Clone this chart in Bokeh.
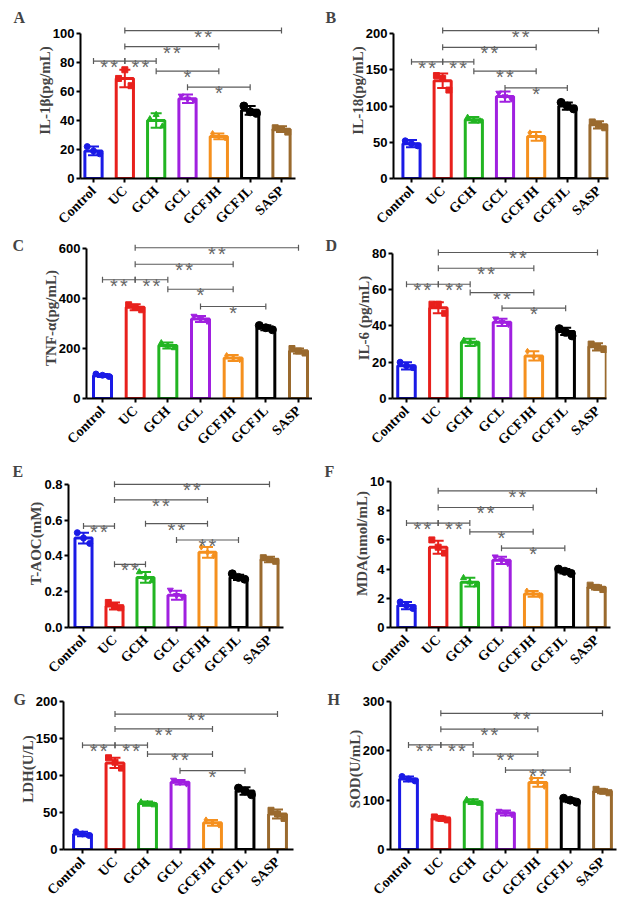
import numpy as np
from bokeh.plotting import figure
from bokeh.layouts import column, row
from bokeh.models import Range1d, FixedTicker, PrintfTickFormatter
from bokeh.embed import file_html
from bokeh.resources import INLINE

groups = ["Control", "UC", "GCH", "GCL", "GCFJH", "GCFJL", "SASP"]
colors = ["#1a1ae6", "#e8201c", "#22b522", "#a020e0", "#f5901e", "#000000", "#9a6a2e"]
markers = ["circle", "square", "triangle", "inverted_triangle", "diamond", "circle", "square"]
msizes = [6, 6, 6, 6, 6, 8, 6]

# ---- data (mean, SD, individual points [left, centre, right], significance brackets) ----
a_mean = [19, 69, 40, 55, 29, 47, 34]
a_sd = [3, 6, 5, 3, 2, 3, 2]
a_pts = [[22, 19, 17], [69, 75, 64], [41, 44, 36], [57, 55, 54], [31, 29, 28], [50, 46, 45], [35, 34, 32]]
a_sig = [(0, 1, 81, "**"), (1, 2, 81, "**"), (2, 4, 74, "*"), (3, 5, 63, "*"), (1, 4, 91, "**"), (1, 6, 102, "**")]

b_mean = [48, 135, 81, 113, 58, 100, 74]
b_sd = [5, 10, 4, 7, 6, 5, 5]
b_pts = [[52, 48, 45], [142, 138, 122], [84, 80, 79], [118, 113, 110], [63, 58, 55], [105, 100, 96], [78, 74, 70]]
b_sig = [(0, 1, 161, "**"), (1, 2, 161, "**"), (2, 4, 148, "**"), (3, 5, 125, "*"), (1, 4, 181, "**"), (1, 6, 204, "**")]

c_mean = [92, 365, 212, 318, 162, 283, 190]
c_sd = [6, 12, 12, 12, 12, 10, 10]
c_pts = [[98, 93, 88], [375, 365, 355], [222, 212, 202], [330, 318, 310], [172, 162, 155], [292, 283, 275], [200, 190, 182]]
c_sig = [(0, 1, 475, "**"), (1, 2, 475, "**"), (2, 4, 437, "*"), (3, 5, 368, "*"), (1, 4, 537, "**"), (1, 6, 603, "**")]

d_mean = [18, 50, 31, 42, 23.5, 37, 28.5]
d_sd = [2, 3, 2, 2, 2.5, 2, 2]
d_pts = [[20, 18, 17], [52, 52, 47], [32, 31, 30], [44, 42, 41], [26, 23, 22], [38.5, 36.5, 34.5], [30, 28.5, 27]]
d_sig = [(0, 1, 63, "**"), (1, 2, 63, "**"), (2, 4, 58.4, "**"), (3, 5, 49.8, "*"), (1, 4, 71.8, "**"), (1, 6, 80.5, "**")]

e_mean = [0.50, 0.12, 0.28, 0.18, 0.42, 0.28, 0.38]
e_sd = [0.03, 0.02, 0.03, 0.025, 0.03, 0.015, 0.015]
e_pts = [[0.53, 0.50, 0.47], [0.14, 0.12, 0.11], [0.31, 0.28, 0.26], [0.21, 0.18, 0.17], [0.45, 0.42, 0.40], [0.30, 0.28, 0.27], [0.39, 0.38, 0.37]]
e_sig = [(0, 1, 0.567, "**"), (1, 2, 0.353, "**"), (2, 4, 0.58, "**"), (3, 5, 0.489, "**"), (1, 4, 0.713, "**"), (1, 6, 0.80, "**")]

f_mean = [1.5, 5.5, 3.1, 4.6, 2.3, 3.85, 2.75]
f_sd = [0.25, 0.45, 0.3, 0.25, 0.2, 0.15, 0.15]
f_pts = [[1.75, 1.5, 1.3], [6.0, 5.5, 5.1], [3.4, 3.1, 2.9], [4.85, 4.6, 4.4], [2.5, 2.3, 2.2], [4.0, 3.85, 3.7], [2.9, 2.75, 2.6]]
f_sig = [(0, 1, 7.15, "**"), (1, 2, 7.15, "**"), (2, 4, 6.55, "*"), (3, 5, 5.43, "*"), (1, 4, 8.22, "**"), (1, 6, 9.36, "**")]

g_mean = [21, 117, 62, 91, 36, 79, 48]
g_sd = [3, 7, 3, 3, 4, 5, 6]
g_pts = [[24, 21, 19], [124, 118, 110], [64, 62, 60], [94, 91, 89], [40, 36, 33], [83, 79, 74], [53, 48, 42]]
g_sig = [(0, 1, 141, "**"), (1, 2, 141, "**"), (2, 4, 129, "**"), (3, 5, 106.5, "*"), (1, 4, 163, "**"), (1, 6, 183, "**")]

h_mean = [143, 63, 97, 74, 136, 100, 118]
h_sd = [5, 4, 5, 5, 9, 4, 4]
h_pts = [[148, 143, 139], [66, 63, 60], [101, 97, 93], [78, 74, 71], [144, 136, 128], [104, 100, 96], [122, 118, 115]]
h_sig = [(0, 1, 212, "**"), (1, 2, 212, "**"), (2, 4, 193.5, "**"), (3, 5, 161, "**"), (1, 4, 244, "**"), (1, 6, 276, "**")]

panels = [
    dict(letter="A", ylabel="IL-1β(pg/mL)", ymax=100, ticks=[0, 20, 40, 60, 80, 100], mean=a_mean, sd=a_sd, pts=a_pts, sig=a_sig, fmt=None),
    dict(letter="B", ylabel="IL-18(pg/mL)", ymax=200, ticks=[0, 50, 100, 150, 200], mean=b_mean, sd=b_sd, pts=b_pts, sig=b_sig, fmt=None),
    dict(letter="C", ylabel="TNF-α(pg/mL)", ymax=600, ticks=[0, 200, 400, 600], mean=c_mean, sd=c_sd, pts=c_pts, sig=c_sig, fmt=None),
    dict(letter="D", ylabel="IL-6 (pg/mL)", ymax=80, ticks=[0, 20, 40, 60, 80], mean=d_mean, sd=d_sd, pts=d_pts, sig=d_sig, fmt=None),
    dict(letter="E", ylabel="T-AOC(mM)", ymax=0.8, ticks=[0, 0.2, 0.4, 0.6, 0.8], mean=e_mean, sd=e_sd, pts=e_pts, sig=e_sig, fmt="%.1f"),
    dict(letter="F", ylabel="MDA(nmol/mL)", ymax=10, ticks=[0, 2, 4, 6, 8, 10], mean=f_mean, sd=f_sd, pts=f_pts, sig=f_sig, fmt=None),
    dict(letter="G", ylabel="LDH(U/L)", ymax=200, ticks=[0, 50, 100, 150, 200], mean=g_mean, sd=g_sd, pts=g_pts, sig=g_sig, fmt=None),
    dict(letter="H", ylabel="SOD(U/mL)", ymax=300, ticks=[0, 100, 200, 300], mean=h_mean, sd=h_sd, pts=h_pts, sig=h_sig, fmt=None),
]

# ---- layout geometry (page pixels): axis_x, first bar x, last bar x, axis right end, zero y, top tick y, letter x, letter y
ROW_TOPS = [0, 235, 457, 686]
ROW_H = [235, 222, 229, 226]
COL_L = [0, 312]
COL_W = [312, 312]
geo = [
    (80, 93, 281, 295, 178, 33, 19, 20),
    (393, 411, 598, 608, 178, 33, 331, 20),
    (86, 102, 298, 312, 398, 248, 18, 241),
    (392, 406, 597, 606, 399, 253, 331, 241),
    (68, 83, 269, 283, 628, 484, 18, 471),
    (390, 406, 596, 610, 627, 481, 330, 472),
    (63, 82, 277, 293, 849, 701, 19, 698),
    (390, 408, 602, 616, 849, 701, 333, 698),
]

SERIF = "Liberation Serif"
SANS = "Liberation Sans"
GRAY = "#5a5a5a"
OFFS = [-0.2, 0.0, 0.2]


def make(pn, g, r, c):
    axis_x, ctrl_x, sasp_x, right_x, y0, yt, lx, ly = g
    row_top, row_h, col_left, col_w = ROW_TOPS[r], ROW_H[r], COL_L[c], COL_W[c]
    ymax = pn["ymax"]
    scale = (y0 - yt) / ymax
    frame_top = row_top + 2
    y_end = ymax + (yt - frame_top) / scale
    sp = (sasp_x - ctrl_x) / 6.0
    x_start = -(ctrl_x - axis_x) / sp
    x_end = (right_x - ctrl_x) / sp
    bl = axis_x - col_left
    fw = right_x - axis_x
    br = col_w - bl - fw
    bt = frame_top - row_top
    fh = y0 - frame_top
    bb = row_h - bt - fh

    p = figure(width=col_w, height=row_h, x_range=Range1d(x_start, x_end), y_range=Range1d(0, y_end),
               min_border_left=bl, min_border_right=br, min_border_top=bt, min_border_bottom=bb,
               output_backend="svg", toolbar_location=None)
    p.outline_line_color = None
    p.grid.visible = False
    p.background_fill_color = "white"
    p.border_fill_color = "white"

    xs = np.arange(7)
    mean = np.array(pn["mean"], dtype=float)
    sd = np.array(pn["sd"], dtype=float)

    # bars
    p.vbar(x=xs, top=mean, width=0.55, bottom=0, fill_color="white", line_color=colors, line_width=3)
    # error bars
    p.segment(x0=xs, y0=mean - sd, x1=xs, y1=mean + sd, line_color=colors, line_width=2)
    p.scatter(x=xs, y=mean + sd, marker="dash", size=11, line_color=colors, line_width=2)
    p.scatter(x=xs, y=mean - sd, marker="dash", size=11, line_color=colors, line_width=2)
    # points
    for i in range(7):
        vals = pn["pts"][i]
        px = [i + o for o in OFFS]
        p.scatter(x=px, y=vals, marker=markers[i], size=msizes[i], fill_color=colors[i], line_color=colors[i])

    # significance brackets
    for (i, j, y, lab) in pn["sig"]:
        p.segment(x0=[i], y0=[y], x1=[j], y1=[y], line_color=GRAY, line_width=1.2)
        p.scatter(x=[i, j], y=[y, y], marker="dash", angle=np.pi / 2, size=6, line_color=GRAY, line_width=1.2)
        n = len(lab)
        for k in range(n):
            xo = (k - (n - 1) / 2.0) * 10
            p.text(x=[(i + j) / 2.0], y=[y], text=["*"], text_align="center", text_baseline="alphabetic",
                   x_offset=xo, y_offset=6, text_color="#666666", text_font_size="20px", text_font={"value": SANS})

    # axes
    yax = p.yaxis[0]
    yax.ticker = FixedTicker(ticks=pn["ticks"])
    yax.bounds = (0, ymax)
    if pn["fmt"]:
        yax.formatter = PrintfTickFormatter(format=pn["fmt"])
    yax.axis_label = pn["ylabel"]
    yax.axis_label_text_font = SERIF
    yax.axis_label_text_font_style = "bold"
    yax.axis_label_text_font_size = "15px"
    yax.axis_label_standoff = -3
    yax.major_label_text_font = SANS
    yax.major_label_text_font_style = "bold"
    yax.major_label_text_font_size = "13px"
    yax.major_label_text_color = "black"
    yax.major_label_standoff = 2

    xax = p.xaxis[0]
    xax.ticker = FixedTicker(ticks=list(range(7)))
    xax.major_label_overrides = {i: groups[i] for i in range(7)}
    xax.major_label_orientation = np.pi / 4
    xax.major_label_text_font = SERIF
    xax.major_label_text_font_style = "bold"
    xax.major_label_text_font_size = "14px"
    xax.major_label_text_color = "black"
    xax.major_label_standoff = 6

    for ax in (xax, yax):
        ax.axis_line_width = 2
        ax.axis_line_color = "black"
        ax.major_tick_line_width = 2
        ax.major_tick_line_color = "black"
        ax.major_tick_out = 4
        ax.major_tick_in = 0
        ax.minor_tick_line_color = None

    # panel letter: title pulled back over the top border with a negative standoff
    p.title.text = pn["letter"]
    p.title.align = "left"
    p.title.text_font = SERIF
    p.title.text_font_style = "bold"
    p.title.text_font_size = "16px"
    p.title.offset = (lx - 6) - axis_x
    p.title.standoff = frame_top - ly - 28
    return p


figs = [make(panels[k], geo[k], k // 2, k % 2) for k in range(8)]
layout = column(*[row(figs[2 * r], figs[2 * r + 1]) for r in range(4)], spacing=0)
for rr in layout.children:
    rr.spacing = 0

open("out.html", "w").write(file_html(layout, INLINE))
